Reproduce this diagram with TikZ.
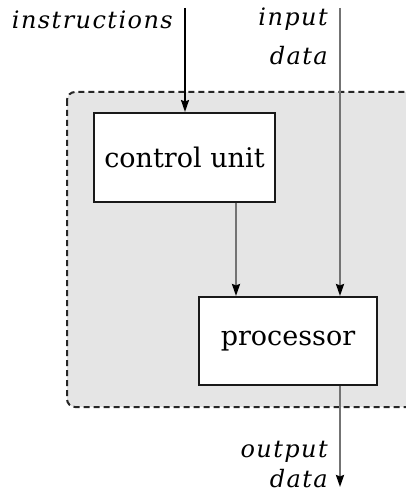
\documentclass[tikz,border=0pt]{standalone}
\usepackage{fontspec}
\setmainfont{DejaVu Serif}
\newfontfamily\lblfont{DejaVu Serif}[LetterSpace=6]
\usetikzlibrary{arrows.meta}
\begin{document}
\begin{tikzpicture}[x=1pt,y=-1pt,
  unit/.style={draw=black!90, line width=2pt, fill=white, font=\fontsize{27}{32}\selectfont, inner sep=0pt},
  lbl/.style={font=\lblfont\itshape\fontsize{24}{28}\selectfont, anchor=base east, inner sep=0pt},
  flow/.style={draw=black!55, line width=2.2pt, -{Stealth[length=12pt,width=8pt,inset=1.5pt,color=black]}}
]
\useasboundingbox (0,0) rectangle (405,494);
\filldraw[fill=black!10, draw=black!85, line width=2pt, dash pattern=on 6pt off 4pt, rounded corners=8pt] (67,92) rectangle (430,407);
\node[unit, minimum width=181pt, minimum height=89pt] (cu) at (184.5,157.5) {control unit};
\node[unit, minimum width=178pt, minimum height=88pt] (proc) at (288,341) {\raisebox{-3pt}{processor}};
\coordinate (instr) at (185,8);
\coordinate (inp) at (340,8);
\coordinate (out) at (340,487);
\draw[flow, draw=black, line width=1.8pt] (instr) -- (instr |- cu.north);
\draw[flow] ([xshift=51.5pt]cu.south) -- ([xshift=51.5pt]cu.south |- proc.north);
\draw[flow] (inp) -- (inp |- proc.north);
\draw[flow] (inp |- proc.south) -- (out);
\node[lbl] (linstr) at (173,29) {instructions};
\node[lbl] (linp) at (328,26) {input};
\node[lbl] (ldata) at (328,65) {data};
\node[lbl] (lout) at (328,457) {output};
\node[lbl] (lodata) at (328,487) {data};
\end{tikzpicture}
\end{document}
